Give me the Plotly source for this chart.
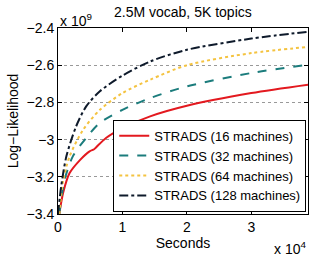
import plotly.graph_objects as go

# x in units of 1e4 seconds, y in units of 1e9
x16 = [0.02, 0.08, 0.18, 0.34, 0.49, 0.56, 0.59, 0.75, 1.0, 1.43, 2.0, 3.0, 3.88]
y16 = [-3.40, -3.286, -3.18, -3.11, -3.063, -3.052, -3.042, -2.99, -2.938, -2.875, -2.818, -2.75, -2.705]

x32 = [0.02, 0.1, 0.23, 0.44, 0.65, 1.0, 1.43, 2.0, 3.0, 3.88]
y32 = [-3.40, -3.22, -3.09, -2.99, -2.91, -2.84, -2.777, -2.714, -2.642, -2.597]

x64 = [0.02, 0.08, 0.18, 0.39, 0.65, 1.0, 1.43, 2.0, 3.0, 3.88]
y64 = [-3.40, -3.22, -3.09, -2.947, -2.84, -2.75, -2.678, -2.60, -2.535, -2.502]

x128 = [0.0, 0.05, 0.13, 0.28, 0.44, 0.65, 1.0, 1.43, 2.0, 3.0, 3.88]
y128 = [-3.40, -3.25, -3.09, -2.93, -2.82, -2.74, -2.656, -2.58, -2.517, -2.457, -2.42]

names = ["STRADS (16 machines)", "STRADS (32 machines)",
         "STRADS (64 machines)", "STRADS (128 machines)"]
colors = ["#e3191f", "#1b7c7c", "#f4c340", "#0e1a2b"]
dashes = ["solid", "dash", "dot", "dashdot"]
xs = [x16, x32, x64, x128]
ys = [y16, y32, y64, y128]

fig = go.Figure()
for x, y, n, c, d in zip(xs, ys, names, colors, dashes):
    fig.add_trace(go.Scatter(x=x, y=y, mode="lines", name=n,
                             line=dict(color=c, dash=d, width=2, shape="spline", smoothing=0.8)))

font = "Liberation Sans, Arial, sans-serif"
fig.update_layout(
    width=315, height=262,
    margin=dict(l=58, r=7, t=28, b=48, autoexpand=False),
    paper_bgcolor="white", plot_bgcolor="white",
    font=dict(family=font, size=14, color="black"),
    showlegend=True,
    legend=dict(x=0.993, y=0.012, xanchor="right", yanchor="bottom",
                bgcolor="white", bordercolor="black", borderwidth=1,
                font=dict(size=13), tracegroupgap=0, itemwidth=30),
)
fig.update_xaxes(range=[0, 3.88], tickvals=[0, 1, 2, 3], ticktext=["0", "1", "2", "3"],
                 showline=True, linecolor="black", linewidth=1, mirror="ticks",
                 ticks="inside", ticklen=4, tickcolor="black", showgrid=False, zeroline=False,
                 automargin=False,
                 title=dict(text="Seconds", standoff=0, font=dict(size=14)))
fig.update_yaxes(range=[-3.4, -2.4], tickvals=[-3.4, -3.2, -3.0, -2.8, -2.6, -2.4],
                 ticktext=["−3.4", "−3.2", "−3", "−2.8", "−2.6", "−2.4"],
                 showline=True, linecolor="black", linewidth=1, mirror="ticks",
                 ticks="inside", ticklen=4, tickcolor="black", automargin=False,
                 showgrid=True, gridcolor="#999999", griddash="dot", gridwidth=1, zeroline=False,
                 title=dict(text="Log−Likelihood", standoff=4, font=dict(size=14)))
fig.add_annotation(text="2.5M vocab, 5K topics", xref="paper", yref="paper",
                   x=0.5, y=1, yshift=16, xanchor="center", yanchor="middle",
                   showarrow=False, font=dict(size=14))
fig.add_annotation(text="x 10<sup>9</sup>", xref="paper", yref="paper",
                   x=0, y=1, yshift=8, xanchor="left", yanchor="middle",
                   showarrow=False, font=dict(size=14))
fig.add_annotation(text="x 10<sup>4</sup>", xref="paper", yref="paper",
                   x=1, y=0, yshift=-34, xanchor="right", yanchor="middle",
                   showarrow=False, font=dict(size=14))
fig.write_html("out.html", config={"displayModeBar": False},
               post_script="document.body.style.margin='0';document.body.style.padding='0';")
